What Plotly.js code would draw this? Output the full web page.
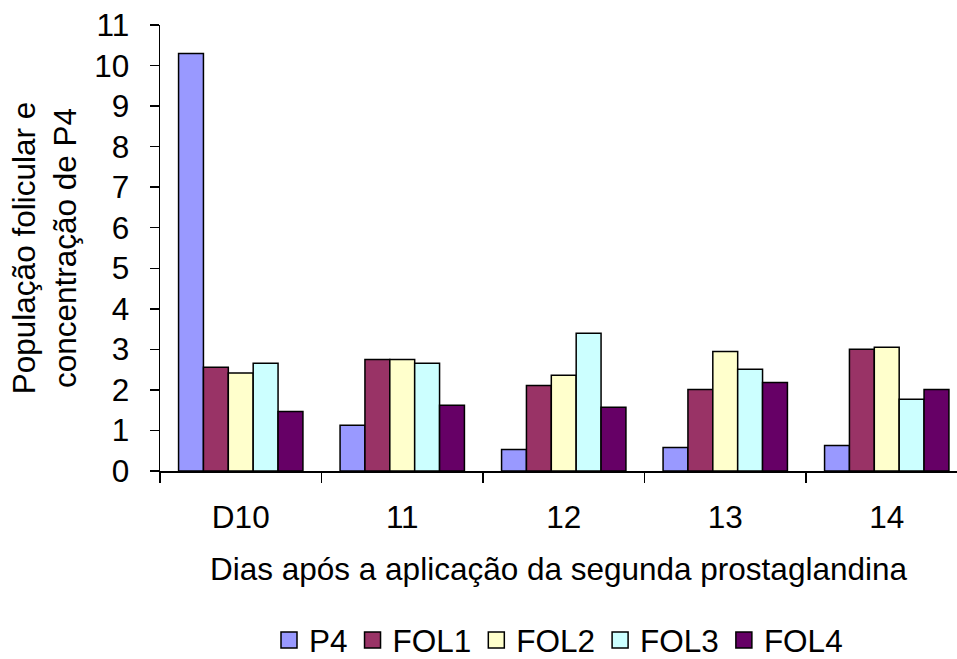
<!DOCTYPE html>
<html>
<head>
<meta charset="utf-8">
<script src="https://cdn.plot.ly/plotly-3.0.1.min.js"></script>
<style>
  html, body { margin: 0; padding: 0; background: #ffffff; }
  #chart { width: 957px; height: 659px; }
</style>
</head>
<body>
<div id="chart"></div>
<script>
// Days after the second prostaglandin injection
const days = ["D10", "11", "12", "13", "14"];

// Series values per day
const p4   = [10.3, 1.13, 0.53, 0.58, 0.63];
const fol1 = [2.56, 2.75, 2.11, 2.01, 3.00];
const fol2 = [2.42, 2.75, 2.36, 2.95, 3.05];
const fol3 = [2.66, 2.66, 3.40, 2.51, 1.77];
const fol4 = [1.47, 1.62, 1.57, 2.18, 2.01];

const seriesNames = ["P4", "FOL1", "FOL2", "FOL3", "FOL4"];
const seriesValues = [p4, fol1, fol2, fol3, fol4];
const seriesColors = ["#9999FF", "#993366", "#FFFFCC", "#CCFFFF", "#660066"];

const FONT = "Liberation Sans, Arial, Helvetica, sans-serif";
const FS = 31.5;

// The bars themselves
const barTraces = seriesNames.map((name, i) => ({
  type: "bar",
  name: name,
  legendgroup: name,
  showlegend: false,
  x: days,
  y: seriesValues[i],
  marker: { color: seriesColors[i], line: { color: "#000000", width: 1.5 } },
  hoverinfo: "name+y"
}));

// Legend entries with larger square swatches (no data points)
const keyTraces = seriesNames.map((name, i) => ({
  type: "scatter",
  mode: "markers",
  name: name,
  legendgroup: name,
  x: [null],
  y: [null],
  marker: { symbol: "square", size: 16, color: seriesColors[i], line: { color: "#000000", width: 1.5 } },
  hoverinfo: "skip"
}));

const layout = {
  width: 957,
  height: 659,
  margin: { l: 160, r: 0, t: 25, b: 188, autoexpand: false },
  paper_bgcolor: "#ffffff",
  plot_bgcolor: "#ffffff",
  font: { family: FONT, size: FS, color: "#000000" },
  barmode: "group",
  bargap: 0.23,
  bargroupgap: 0,
  showlegend: true,
  legend: {
    orientation: "h",
    x: 0.5,
    xanchor: "center",
    y: -0.379,
    yanchor: "middle",
    font: { family: FONT, size: FS, color: "#000000" },
    traceorder: "normal"
  },
  xaxis: {
    type: "category",
    range: [-0.5, 4.435],
    showline: true,
    linecolor: "#000000",
    linewidth: 1.5,
    ticks: "outside",
    tickson: "boundaries",
    ticklen: 10,
    tickwidth: 1.5,
    tickcolor: "#000000",
    ticklabelstandoff: 18,
    showgrid: false,
    zeroline: false,
    automargin: false,
    tickfont: { family: FONT, size: FS },
    title: {
      text: "Dias após a aplicação da segunda prostaglandina",
      font: { family: FONT, size: FS },
      standoff: 23
    }
  },
  yaxis: {
    range: [0, 11],
    dtick: 1,
    showline: true,
    linecolor: "#000000",
    linewidth: 1.5,
    ticks: "outside",
    ticklen: 9,
    tickwidth: 1.5,
    tickcolor: "#000000",
    ticklabelstandoff: 14,
    showgrid: false,
    zeroline: false,
    automargin: false,
    tickfont: { family: FONT, size: FS },
    title: {
      text: "População folicular e<br>concentração de P4",
      font: { family: FONT, size: FS },
      standoff: 8
    }
  }
};

Plotly.newPlot("chart", barTraces.concat(keyTraces), layout, { displayModeBar: false, staticPlot: true });
</script>
</body>
</html>
